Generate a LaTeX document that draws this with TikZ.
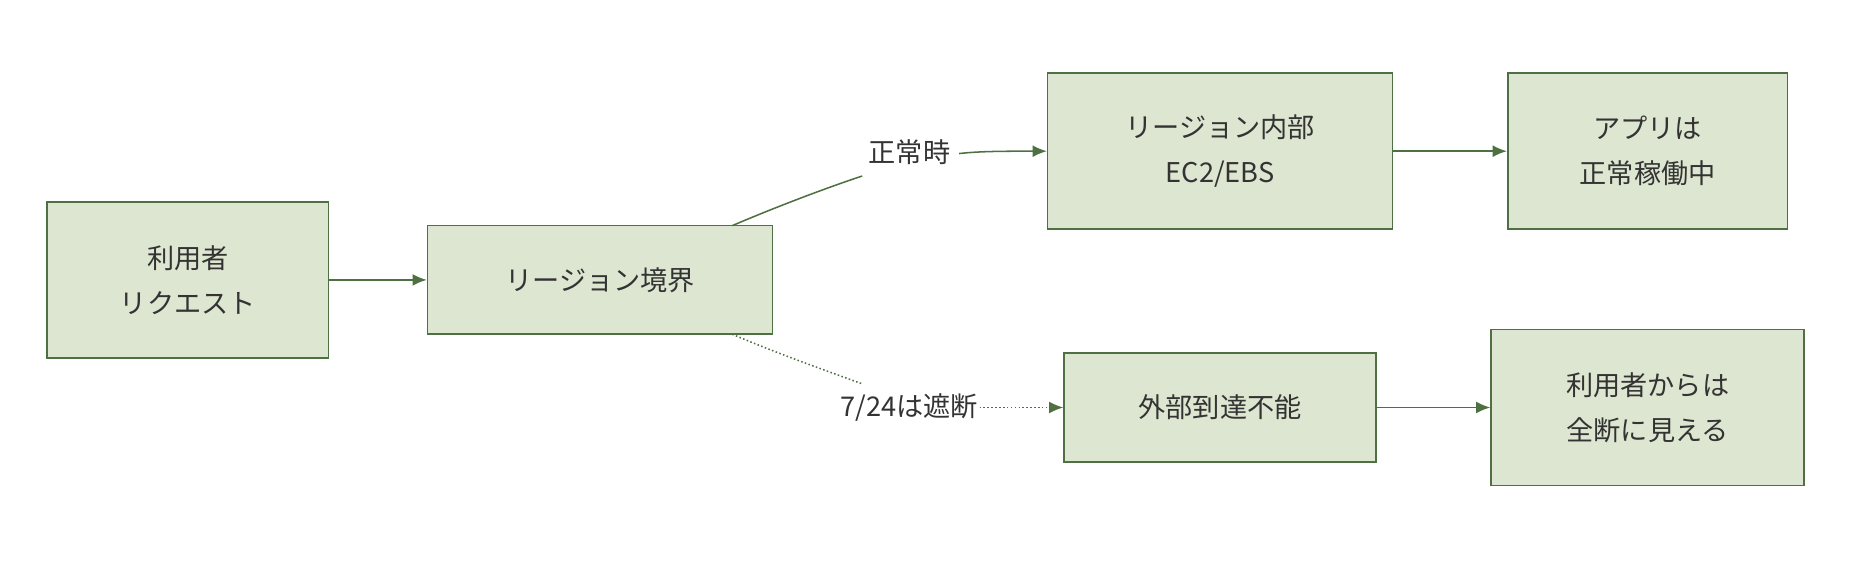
\documentclass[tikz,border=0pt]{standalone}
\usepackage{fontspec}
\setmainfont{Noto Sans CJK JP}
\usetikzlibrary{arrows.meta}
\definecolor{bfill}{HTML}{DDE6D0}
\definecolor{bline}{HTML}{4F7042}
\definecolor{tcol}{HTML}{333333}
\begin{document}
\begin{tikzpicture}[x=1pt,y=-1pt,
  box/.style={draw=bline,fill=bfill,line width=1.4pt,inner sep=0pt,text=tcol,font=\fontsize{23}{38}\selectfont,align=center},
  lab/.style={text=tcol,font=\fontsize{23}{28}\selectfont,inner sep=1pt},
  conn/.style={draw=bline,line width=1.3pt,-{Latex[length=12pt,width=10pt]}}]
\useasboundingbox (0,0) rectangle (1568,477);
\node[box,minimum width=238pt,minimum height=132pt] (a) at (159,237) {利用者\\リクエスト};
\node[box,minimum width=292pt,minimum height=92pt] (b) at (508,237) {リージョン境界};
\node[box,minimum width=292pt,minimum height=132pt] (c) at (1033,128) {リージョン内部\\EC2/EBS};
\node[box,minimum width=237pt,minimum height=132pt] (d) at (1395,128) {アプリは\\正常稼働中};
\node[box,minimum width=264pt,minimum height=92pt] (e) at (1033,345) {外部到達不能};
\node[box,minimum width=265pt,minimum height=132pt] (f) at (1395,345) {利用者からは\\全断に見える};
\node[lab] (l1) at (770,129) {正常時};
\node[lab] (l2) at (770,345) {7/24は遮断};
\coordinate (b1) at (620,191);
\coordinate (b2) at (620,283);
\draw[conn] (a) -- (b);
\draw[conn] (c) -- (d);
\draw[conn] (e) -- (f);
\draw[draw=bline,line width=1.3pt] (b1) .. controls (660,174) and (700,159) .. (730,149);
\draw[conn] (812,130) .. controls (830,128) and (850,128) .. (c.west);
\draw[draw=bline,line width=1.3pt,dotted] (b2) .. controls (660,300) and (700,314) .. (730,325);
\draw[conn,dotted] (l2.east) -- (e.west);
\end{tikzpicture}
\end{document}
